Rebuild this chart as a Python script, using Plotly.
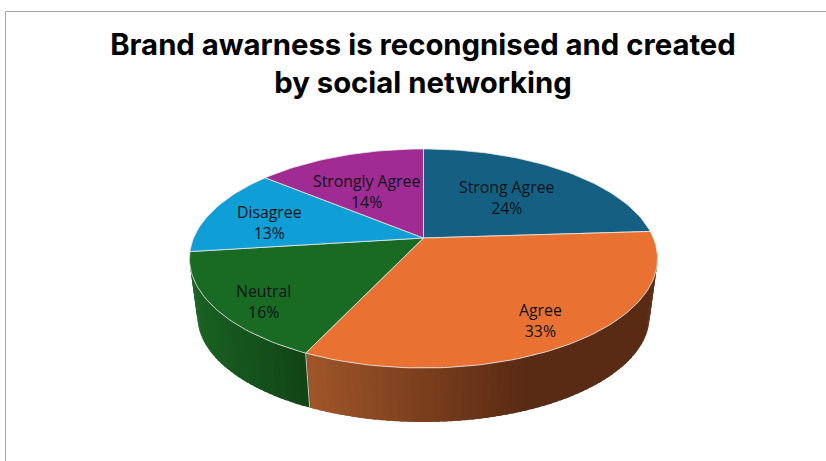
import math
import plotly.graph_objects as go

# Survey responses, in drawing order clockwise from twelve o'clock
categories = ["Strong Agree", "Agree", "Neutral", "Disagree", "Strongly Agree"]
shares = [24, 33, 16, 13, 14]
top_colors = ["#156082", "#E97132", "#196B24", "#0F9ED5", "#A02B93"]
title_lines = ["Brand awarness is recongnised and created", "by social networking"]

# Side-wall shading per slice: colour at the left end, the colour it darkens to,
# and how far across the slice's width the darkening runs
wall_left = {"Agree": (160, 86, 41), "Neutral": (26, 98, 35)}
wall_right = {"Agree": (90, 43, 20), "Neutral": (17, 68, 22)}
wall_ramp = {"Agree": 0.62, "Neutral": 1.0}

# Perspective model of the tilted disc, in page pixels
CX, CY = 423.5, 238.0
A, B, K = 229.9, 105.7, 0.187
DROP_Y, SHRINK = 296.4, 0.966

# Where each two-line slice caption is centred
label_pos = {
    "Strong Agree": (506.5, 197.0),
    "Agree": (540.0, 320.5),
    "Neutral": (263.0, 301.5),
    "Disagree": (269.5, 222.0),
    "Strongly Agree": (366.0, 191.0),
}


def top_point(deg):
    """Point on the upper face; deg runs clockwise from twelve o'clock."""
    u = math.sin(math.radians(deg))
    v = math.cos(math.radians(deg))
    d = 1 + K * v
    return CX + A * u / d, CY - B * v / d


def bottom_point(deg):
    u = math.sin(math.radians(deg))
    v = math.cos(math.radians(deg))
    d = 1 + K * v
    return CX + SHRINK * A * u / d, DROP_Y - SHRINK * B * v / d


def mix(c0, c1, t):
    return "rgb(%d,%d,%d)" % tuple(round(a + (b - a) * t) for a, b in zip(c0, c1))


total = sum(shares)
edges = [0.0]
for s in shares:
    edges.append(edges[-1] + 360.0 * s / total)

fig = go.Figure()

# Side wall: narrow overlapping strips so the shade can change along the rim
WALL_START, WALL_END = 100.0, 260.0
STEP = 1.5
OVERLAP = 1.0
deg = WALL_START
while deg < WALL_END:
    nxt = min(deg + STEP, WALL_END)
    mid = (deg + nxt) / 2
    idx = next(i for i in range(len(shares)) if edges[i] <= mid < edges[i + 1])
    name = categories[idx]
    if name in wall_left:
        left_x = top_point(edges[idx + 1])[0]
        right_x = top_point(max(edges[idx], WALL_START))[0]
        t = (top_point(mid)[0] - left_x) / ((right_x - left_x) * wall_ramp[name])
        t = min(max(t, 0.0), 1.0)
        col = mix(wall_left[name], wall_right[name], t)
        far = min(nxt + OVERLAP, edges[idx + 1])
        p = [top_point(deg), top_point(far), bottom_point(far), bottom_point(deg)]
        fig.add_trace(go.Scatter(
            x=[q[0] for q in p] + [p[0][0]],
            y=[q[1] for q in p] + [p[0][1]],
            mode="none", fill="toself", fillcolor=col,
            hoverinfo="skip", showlegend=False,
        ))
    deg = nxt

# Light seam where the two walls meet
seam = edges[2]
fig.add_trace(go.Scatter(
    x=[top_point(seam)[0], bottom_point(seam)[0]],
    y=[top_point(seam)[1], bottom_point(seam)[1]],
    mode="lines", line=dict(color="#d9c9bd", width=1),
    hoverinfo="skip", showlegend=False,
))

# Upper face of each slice
for i, name in enumerate(categories):
    n = max(int((edges[i + 1] - edges[i]) / 1.5), 2)
    rim = [top_point(edges[i] + (edges[i + 1] - edges[i]) * j / n) for j in range(n + 1)]
    xs = [CX] + [q[0] for q in rim] + [CX]
    ys = [CY] + [q[1] for q in rim] + [CY]
    fig.add_trace(go.Scatter(
        x=xs, y=ys, mode="lines", fill="toself", fillcolor=top_colors[i],
        line=dict(color="rgba(232,232,232,0.8)", width=1),
        name=name, text=f"{name}: {shares[i]}%", hoverinfo="text", showlegend=False,
    ))

# Slice captions
for name, value in zip(categories, shares):
    x, y = label_pos[name]
    fig.add_annotation(
        x=x, y=y, xref="x", yref="y", text=f"{name}<br>{value}%", showarrow=False,
        align="center", font=dict(family="Open Sans", size=15.8, color="#0a1418"),
    )

# Thin chart-area frame along the top and left
frame = dict(color="#a6a6a6", width=1)
fig.add_shape(type="line", xref="x", yref="y", x0=5.5, x1=826, y0=11.5, y1=11.5, line=frame)
fig.add_shape(type="line", xref="x", yref="y", x0=5.5, x1=5.5, y0=11.5, y1=461, line=frame)

fig.update_layout(
    width=826, height=461,
    margin=dict(l=0, r=0, t=0, b=0),
    paper_bgcolor="white", plot_bgcolor="white",
    title=dict(
        text="<br>".join(title_lines),
        x=423 / 826, xanchor="center", y=1 - 55 / 461, yanchor="middle",
        font=dict(family="Inter", size=29.3, color="black", weight=700),
    ),
    xaxis=dict(range=[0, 826], visible=False, fixedrange=True),
    yaxis=dict(range=[461, 0], visible=False, fixedrange=True),
)

fig.write_html("out.html")
